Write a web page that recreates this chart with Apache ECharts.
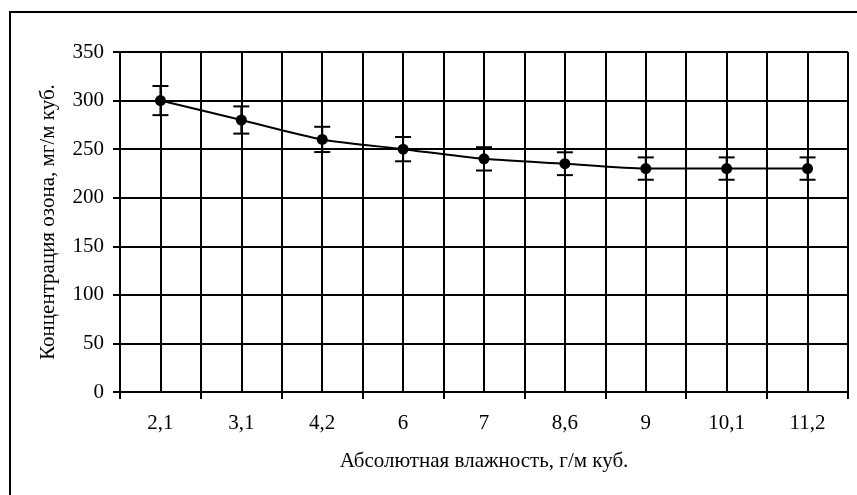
<!DOCTYPE html>
<html>
<head>
<meta charset="utf-8">
<script src="https://cdn.jsdelivr.net/npm/echarts@6/dist/echarts.min.js"></script>
<style>
html,body{margin:0;padding:0;background:#fff;}
#chart{width:857px;height:495px;}
</style>
</head>
<body>
<div id="chart"></div>
<script>
const categories = ['2,1','3,1','4,2','6','7','8,6','9','10,1','11,2'];
const ozone = [300, 280, 260, 250, 240, 235, 230, 230, 230];
const errors = [15, 14, 13, 12.5, 12, 11.75, 11.5, 11.5, 11.5];
const yTicks = [0, 50, 100, 150, 200, 250, 300, 350];
const xTitle = 'Абсолютная влажность, г/м куб.';
const yTitle = 'Концентрация озона, мг/м куб.';

const FONT = '"Liberation Serif", "Times New Roman", serif';
const chart = echarts.init(document.getElementById('chart'));

const errData = categories.map((c, i) => [i, ozone[i] - errors[i], ozone[i] + errors[i]]);

chart.setOption({
  animation: false,
  backgroundColor: '#fff',
  graphic: [{
    type: 'rect',
    shape: {x: 10, y: 12, width: 900, height: 600},
    style: {fill: 'none', stroke: '#000', lineWidth: 2},
    silent: true
  }],
  grid: {left: 120, right: 9, top: 52, bottom: 103, containLabel: false},
  xAxis: {
    type: 'category',
    data: categories,
    boundaryGap: true,
    name: xTitle,
    nameLocation: 'middle',
    nameGap: 59,
    nameTextStyle: {fontFamily: FONT, fontSize: 21, color: '#000'},
    axisLine: {show: true, lineStyle: {color: '#000', width: 2}},
    axisTick: {show: true, length: 7, lineStyle: {color: '#000', width: 2}},
    axisLabel: {fontFamily: FONT, fontSize: 21, color: '#000', margin: 21},
    splitLine: {show: true, lineStyle: {color: '#000', width: 2}}
  },
  yAxis: {
    type: 'value',
    min: yTicks[0],
    max: yTicks[yTicks.length - 1],
    interval: 50,
    name: yTitle,
    nameLocation: 'middle',
    nameGap: 61,
    nameTextStyle: {fontFamily: FONT, fontSize: 21, color: '#000'},
    axisLine: {show: true, lineStyle: {color: '#000', width: 2}},
    axisTick: {show: true, length: 7, lineStyle: {color: '#000', width: 2}},
    axisLabel: {fontFamily: FONT, fontSize: 21, color: '#000', margin: 16},
    splitLine: {show: true, lineStyle: {color: '#000', width: 2}}
  },
  series: [
    {
      type: 'line',
      data: ozone,
      z: 1,
      silent: true,
      symbol: 'none',
      lineStyle: {opacity: 0},
      markLine: {
        silent: true,
        symbol: ['none', 'none'],
        label: {show: false},
        lineStyle: {color: '#000', width: 2, type: 'solid'},
        data: categories.map(c => ({xAxis: c}))
      }
    },
    {
      type: 'line',
      data: ozone,
      z: 3,
      smooth: 0.25,
      symbol: 'circle',
      symbolSize: 11,
      itemStyle: {color: '#000'},
      lineStyle: {color: '#000', width: 2}
    },
    {
      type: 'custom',
      z: 4,
      data: errData,
      renderItem: function (params, api) {
        const x = api.value(0);
        const lo = api.coord([x, api.value(1)]);
        const hi = api.coord([x, api.value(2)]);
        const hw = 8;
        const st = {stroke: '#000', lineWidth: 2};
        return {
          type: 'group',
          children: [
            {type: 'line', shape: {x1: lo[0], y1: lo[1], x2: hi[0], y2: hi[1]}, style: st},
            {type: 'line', shape: {x1: lo[0] - hw, y1: lo[1], x2: lo[0] + hw, y2: lo[1]}, style: st},
            {type: 'line', shape: {x1: hi[0] - hw, y1: hi[1], x2: hi[0] + hw, y2: hi[1]}, style: st}
          ]
        };
      }
    }
  ]
});
</script>
</body>
</html>
